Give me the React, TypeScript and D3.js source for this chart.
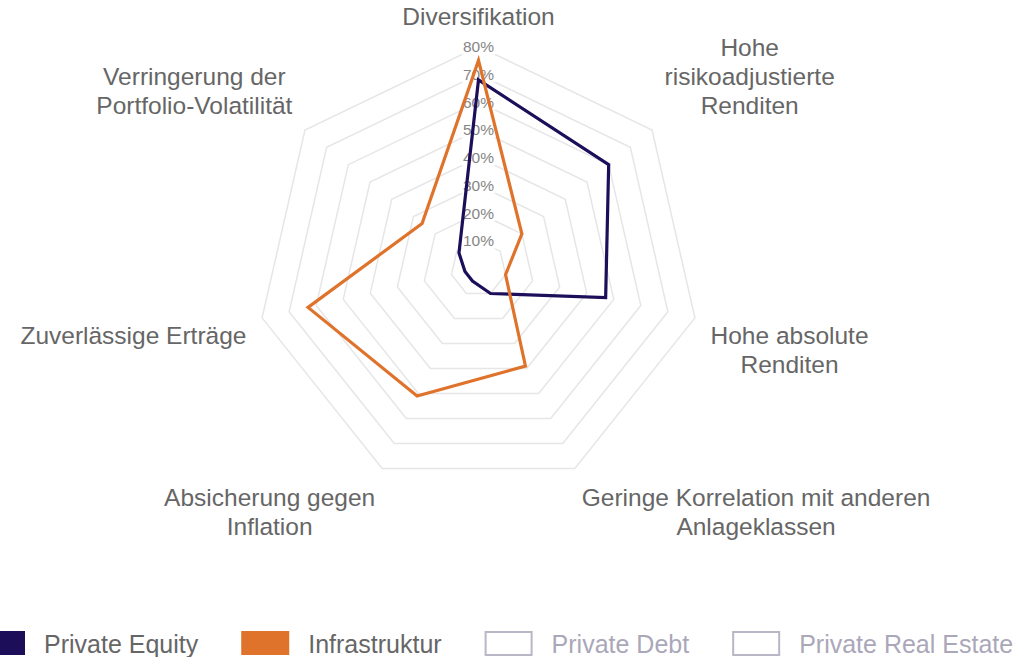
import React, { useMemo } from "react";
import * as d3 from "d3";

const categories: string[][] = [
  ["Diversifikation"],
  ["Hohe", "risikoadjustierte", "Renditen"],
  ["Hohe absolute", "Renditen"],
  ["Geringe Korrelation mit anderen", "Anlageklassen"],
  ["Absicherung gegen", "Inflation"],
  ["Zuverlässige Erträge"],
  ["Verringerung der", "Portfolio-Volatilität"],
];

const privateEquity = [68, 60, 47, 10, 5, 5, 9];
const infrastruktur = [75, 20, 10, 39, 51, 63, 26];

const tickValues = [10, 20, 30, 40, 50, 60, 70, 80];
const tickLabels = ["10%", "20%", "30%", "40%", "50%", "60%", "70%", "80%"];

const legendNames = ["Private Equity", "Infrastruktur", "Private Debt", "Private Real Estate"];
const legendVisible = [true, true, false, false];
const seriesColors = ["#1d0e5a", "#e0732b", "#b9b6c6", "#b9b6c6"];

const W = 1021;
const H = 657;
const CX = 478.5;
const CY = 268.5;
const R = 222;
const LABEL_FONT = "24.5px 'Liberation Sans', Arial, sans-serif";
const LEGEND_FONT = "25px 'Liberation Sans', Arial, sans-serif";
const LINE_H = 29;

function measure(text: string, font: string): number {
  const c = document.createElement("canvas");
  const ctx = c.getContext("2d")!;
  ctx.font = font;
  return ctx.measureText(text).width;
}

export default function App() {
  const n = categories.length;
  const r = d3.scaleLinear().domain([0, 80]).range([0, R]);
  const angle = (i: number) => (i * 2 * Math.PI) / n;
  const pt = (i: number, v: number): [number, number] => [
    CX + r(v) * Math.sin(angle(i)),
    CY - r(v) * Math.cos(angle(i)),
  ];

  const lineGen = d3
    .line<number>()
    .x((v, i) => pt(i, v)[0])
    .y((v, i) => pt(i, v)[1])
    .curve(d3.curveLinearClosed);

  const ringPath = (v: number) =>
    lineGen(d3.range(n).map(() => v)) as string;

  const labels = useMemo(() => {
    return categories.map((lines, i) => {
      const a = angle(i);
      const deg = (a * 180) / Math.PI;
      const dist = R + 16;
      const ax = CX + dist * Math.sin(a);
      const ay = CY - dist * Math.cos(a);
      const w = Math.max(...lines.map((l) => measure(l, LABEL_FONT)));
      const h = lines.length * LINE_H;
      let cx = ax;
      if (deg > 0.5 && deg < 179.5) cx = ax + w / 2;
      else if (deg > 180.5) cx = ax - w / 2;
      let top = ay;
      if (deg < 90 || deg > 270) top = ay - h;
      return { lines, cx, top };
    });
  }, []);

  const legendItems = useMemo(() => {
    let x = -23;
    return legendNames.map((name, i) => {
      const tw = measure(name, LEGEND_FONT);
      const item = { name, x, tx: x + 48 + 19, i };
      x += 48 + 19 + tw + 43;
      return item;
    });
  }, []);

  return (
    <svg
      width={W}
      height={H}
      style={{ position: "absolute", left: 0, top: 0, background: "#fff" }}
    >
      <g>
        {tickValues.map((v) => (
          <path key={v} d={ringPath(v)} fill="none" stroke="#e6e6e6" strokeWidth={1.5} />
        ))}
      </g>
      <g>
        {tickValues.map((v, i) => (
          <g key={v}>
            <rect x={CX - 17} y={CY - r(v) - 8} width={34} height={16} fill="#fff" />
            <text
              x={CX}
              y={CY - r(v)}
              textAnchor="middle"
              dominantBaseline="central"
              fontFamily="'Liberation Sans', Arial, sans-serif"
              fontSize={15.5}
              fill="#858585"
            >
              {tickLabels[i]}
            </text>
          </g>
        ))}
      </g>
      <g>
        {labels.map((lb, i) => (
          <text
            key={i}
            textAnchor="middle"
            fontFamily="'Liberation Sans', Arial, sans-serif"
            fontSize={24.5}
            fill="#666666"
          >
            {lb.lines.map((l, j) => (
              <tspan key={j} x={lb.cx} y={lb.top + LINE_H * j + LINE_H / 2} dominantBaseline="central">
                {l}
              </tspan>
            ))}
          </text>
        ))}
      </g>
      <path d={lineGen(privateEquity) as string} fill="none" stroke={seriesColors[0]} strokeWidth={3.2} strokeLinejoin="miter" />
      <path d={lineGen(infrastruktur) as string} fill="none" stroke={seriesColors[1]} strokeWidth={3.2} strokeLinejoin="miter" />
      <g>
        {legendItems.map((it) => (
          <g key={it.name}>
            {legendVisible[it.i] ? (
              <rect x={it.x} y={631} width={48} height={24} fill={seriesColors[it.i]} />
            ) : (
              <rect x={it.x + 1} y={632} width={46} height={23} fill="#fff" stroke={seriesColors[it.i]} strokeWidth={2} />
            )}
            <text
              x={it.tx}
              y={644}
              dominantBaseline="central"
              fontFamily="'Liberation Sans', Arial, sans-serif"
              fontSize={25}
              fill={legendVisible[it.i] ? "#666666" : "#aaa7b9"}
            >
              {it.name}
            </text>
          </g>
        ))}
      </g>
    </svg>
  );
}
